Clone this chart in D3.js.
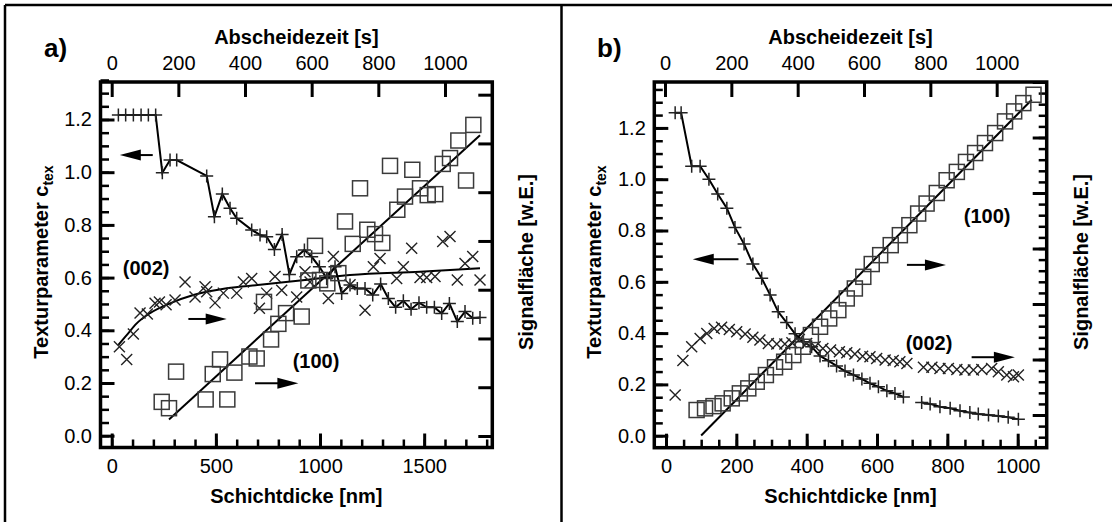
<!DOCTYPE html>
<html>
<head>
<meta charset="utf-8">
<script src="https://cdnjs.cloudflare.com/ajax/libs/d3/7.8.5/d3.min.js"></script>
<style>
body{margin:0;background:#fff;}
svg{display:block;font-family:"Liberation Sans",Arial,Helvetica,sans-serif;}
</style>
</head>
<body>
<svg></svg>
<script>
// ---- panel a) ----
var a_ctexNm  = [32,67,104,141,176,211,243,280,312,456,493,531,568,600,672,712,744,781,818,853,888,925,960,997,1032,1072,1104,1144,1179,1216,1253,1291,1328,1363,1400,1437,1475,1512,1549,1584,1621,1659,1696,1733,1768];
var a_ctexVal = [1.217,1.217,1.217,1.217,1.217,1.217,0.998,1.046,1.046,0.986,0.831,0.917,0.863,0.825,0.781,0.762,0.755,0.707,0.764,0.612,0.679,0.705,0.679,0.641,0.597,0.641,0.540,0.572,0.559,0.559,0.534,0.576,0.521,0.487,0.512,0.480,0.505,0.487,0.487,0.464,0.502,0.433,0.471,0.446,0.449];

var a_x002Nm  = [37,72,104,136,171,208,229,261,304,352,400,448,456,496,536,600,632,672,709,744,784,816,888,928,952,1040,1064,1144,1216,1256,1288,1368,1400,1440,1480,1512,1552,1589,1624,1659,1696,1733,1768];
var a_x002Val = [1.83,1.57,2.09,2.52,2.50,2.72,2.75,2.69,2.79,3.16,2.85,3.06,2.96,2.73,2.93,2.93,3.16,3.23,2.62,2.93,3.27,2.99,2.85,3.37,3.16,2.82,3.68,3.10,2.58,3.47,3.64,3.23,3.47,3.85,3.25,3.25,3.27,3.99,4.09,3.20,3.54,3.68,3.20];
var a_fit002Nm  = [32,72,120,184,280,392,552,712,928,1144,1480,1768];
var a_fit002Val = [1.87,2.07,2.31,2.52,2.72,2.89,3.03,3.10,3.20,3.30,3.37,3.44];

var a_sq100Nm  = [240,275,309,451,485,520,555,589,661,696,731,765,800,837,912,944,976,1000,1035,1088,1120,1157,1192,1227,1264,1299,1336,1371,1408,1443,1480,1517,1553,1589,1624,1664,1701,1736];
var a_sq100Val = [0.70,0.57,1.32,0.75,1.27,1.57,0.75,1.30,1.63,1.59,2.75,1.98,2.30,2.52,2.45,3.19,3.90,3.20,3.13,3.34,4.40,3.94,5.08,4.23,4.14,3.96,5.54,4.64,4.91,5.46,5.08,4.94,4.96,5.58,5.70,6.06,5.24,6.38];
var a_fit100Nm  = [275,1768];
var a_fit100Val = [0.34,6.17];

var a_arrowFrom = [197,368,688];
var a_arrowTo   = [39,552,896];
var a_arrowY    = [1.065,0.443,0.199];
var a_labelText = ["(002)","(100)"];
var a_labelNm   = [165,981];
var a_labelY    = [0.610,0.257];

// ---- panel b) ----
var b_ctexNm  = [26,43,73,97,122,147,173,196,222,247,272,296,319,343,367,390,414,438,462,485,509,533,557,580,604,628,651,675,700,727,751,779,808,836,864,888,917,945,973,1002];
var b_ctexVal = [1.259,1.259,1.051,1.051,1.000,0.942,0.887,0.812,0.747,0.669,0.614,0.549,0.483,0.441,0.397,0.366,0.347,0.311,0.292,0.272,0.252,0.237,0.221,0.204,0.191,0.175,0.165,0.151,null,0.129,0.124,0.113,0.107,0.097,0.090,0.085,0.081,0.077,0.072,0.064];

var b_x002Nm  = [26,48,73,97,116,137,158,180,201,225,247,267,291,315,338,358,379,400,424,446,468,493,514,537,559,580,599,623,646,665,685,732,756,779,803,827,850,874,898,926,945,969,988,1002];
var b_x002Val = [0.36,0.98,1.23,1.38,1.47,1.56,1.58,1.54,1.50,1.46,1.40,1.35,1.29,1.28,1.28,1.30,1.36,1.29,1.23,1.20,1.17,1.14,1.12,1.10,1.06,1.05,1.02,0.99,0.98,0.96,0.93,0.86,0.86,0.84,0.84,0.82,0.81,0.81,0.82,0.84,0.78,0.72,0.69,0.72];

var b_sq100Nm  = [87,111,135,161,187,210,234,258,284,310,336,362,389,412,438,464,490,514,537,561,585,609,639,665,692,717,741,770,798,827,853,879,907,936,964,990,1016,1045];
var b_sq100Val = [0.09,0.12,0.16,0.21,0.30,0.39,0.48,0.60,0.72,0.86,0.96,1.08,1.23,1.44,1.59,1.74,1.89,2.10,2.28,2.49,2.72,2.88,3.06,3.24,3.42,3.63,3.81,4.00,4.23,4.38,4.56,4.72,4.90,5.08,5.29,5.47,5.62,5.77];
var b_fit100Nm  = [100,1040];
var b_fit100Val = [-0.37,5.68];

var b_arrowFrom = [206,685,869];
var b_arrowTo   = [76,796,992];
var b_arrowY    = [0.688,0.666,0.306];
var b_labelText = ["(100)","(002)"];
var b_labelNm   = [913,748];
var b_labelY    = [0.829,0.334];

// ---- tick values ----
var timeTicks = [0,200,400,600,800,1000];
var leftTicks = [0.0,0.2,0.4,0.6,0.8,1.0,1.2];
var a_nmTicks = [0,500,1000,1500];
var b_nmTicks = [0,200,400,600,800,1000];

var svg = d3.select("svg")
            .attr("width",1112)
            .attr("height",522);

// panel frames
var frame = svg.append("g").attr("stroke","#000").attr("stroke-width",2.5);
frame.append("line").attr("x1",5).attr("y1",5).attr("x2",1112).attr("y2",5);
frame.append("line").attr("x1",5).attr("y1",5).attr("x2",5).attr("y2",522);
frame.append("line").attr("x1",561.5).attr("y1",5).attr("x2",561.5).attr("y2",522);

var addAxis = function(g, axis, transform, width)
{
  var ax = g.append("g")
            .attr("transform",transform)
            .call(axis)
            .attr("font-family",null)
            .attr("font-size",20);
  ax.select(".domain").remove();
  ax.selectAll("line").attr("stroke","#000").attr("stroke-width",width);
  ax.selectAll("text").attr("fill","#000");
  return ax;
}

var drawPanel = function(p)
{
  var g = svg.append("g").classed("panel",true);

  var xScale = d3.scaleLinear().domain(p.xDomain).range([p.left,p.right]);
  var tScale = d3.scaleLinear().domain(p.tDomain).range([p.left,p.right]);
  var yScale = d3.scaleLinear().domain(p.yDomain).range([p.bottom,p.top]);
  var rScale = d3.scaleLinear().domain(p.rDomain).range([p.bottom,p.top]);

  // minor ticks
  addAxis(g, d3.axisBottom(xScale).tickValues(p.xMinor).tickSize(-8).tickFormat(""),
          "translate(0,"+p.bottom+")", 2.5);
  addAxis(g, d3.axisLeft(yScale).tickValues(d3.range(0,1.36,0.05)).tickSize(-8.5).tickFormat(""),
          "translate("+p.left+",0)", 2.5);
  if (p.rMinor)
    addAxis(g, d3.axisRight(rScale).tickValues(p.rMinor).tickSize(-8).tickFormat(""),
            "translate("+p.right+",0)", 2.5);

  // major ticks + labels
  addAxis(g, d3.axisBottom(xScale).tickValues(p.xTicks).tickSize(-14).tickPadding(11).tickFormat(d3.format("d")),
          "translate(0,"+p.bottom+")", 3);
  addAxis(g, d3.axisTop(tScale).tickValues(timeTicks).tickSize(-15).tickPadding(12).tickFormat(d3.format("d")),
          "translate(0,"+p.top+")", 3);
  addAxis(g, d3.axisLeft(yScale).tickValues(leftTicks).tickSize(-14).tickPadding(8.5).tickFormat(d3.format(".1f")),
          "translate("+p.left+",0)", 3);
  addAxis(g, d3.axisRight(rScale).tickValues(p.rTicks).tickSize(-14).tickFormat(""),
          "translate("+p.right+",0)", 3);

  g.append("rect")
   .attr("x",p.left).attr("y",p.top)
   .attr("width",p.right-p.left).attr("height",p.bottom-p.top)
   .attr("fill","none").attr("stroke","#000").attr("stroke-width",3.5);

  // fit lines
  var rLine = d3.line()
                .curve(d3.curveMonotoneX)
                .x(function(d) {return xScale(d[0])})
                .y(function(d) {return rScale(d[1])});

  p.fits.forEach(function(f)
  {
    g.append("path")
     .datum(d3.zip(f[0],f[1]))
     .attr("d",rLine)
     .attr("fill","none").attr("stroke","#000").attr("stroke-width",2);
  });

  // texture parameter (left axis)
  var ctex = d3.zip(p.ctexNm,p.ctexVal);
  var cLine = d3.line()
                .defined(function(d) {return d[1]!==null})
                .x(function(d) {return xScale(d[0])})
                .y(function(d) {return yScale(d[1])});

  g.append("path")
   .datum(ctex)
   .attr("d",cLine)
   .attr("fill","none").attr("stroke","#000").attr("stroke-width",2);

  g.selectAll(".plus")
   .data(ctex.filter(function(d) {return d[1]!==null}))
   .enter()
   .append("path")
   .classed("plus",true)
   .attr("transform",function(d) {return "translate("+xScale(d[0])+","+yScale(d[1])+")"})
   .attr("d","M-6.5,0H6.5M0,-6.5V6.5")
   .attr("stroke","#222").attr("stroke-width",1.5).attr("fill","none");

  // (002) crosses
  g.selectAll(".cross")
   .data(d3.zip(p.x002Nm,p.x002Val))
   .enter()
   .append("path")
   .classed("cross",true)
   .attr("transform",function(d) {return "translate("+xScale(d[0])+","+rScale(d[1])+")"})
   .attr("d","M-5.5,-5.5L5.5,5.5M-5.5,5.5L5.5,-5.5")
   .attr("stroke","#222").attr("stroke-width",1.4).attr("fill","none");

  // (100) squares
  g.selectAll(".square")
   .data(d3.zip(p.sq100Nm,p.sq100Val))
   .enter()
   .append("rect")
   .classed("square",true)
   .attr("x",function(d) {return xScale(d[0])-7.5})
   .attr("y",function(d) {return rScale(d[1])-7.5})
   .attr("width",15).attr("height",15)
   .attr("fill","none").attr("stroke","#3a3a3a").attr("stroke-width",1.5);

  // arrows
  p.arrowFrom.forEach(function(from,i)
  {
    var x1 = xScale(from), x2 = xScale(p.arrowTo[i]), y = yScale(p.arrowY[i]);
    var dir = x2 > x1 ? 1 : -1;
    g.append("line")
     .attr("x1",x1).attr("y1",y).attr("x2",x2-dir*15).attr("y2",y)
     .attr("stroke","#000").attr("stroke-width",2);
    g.append("path")
     .attr("d","M"+x2+","+y+"L"+(x2-dir*21)+","+(y-5.5)+"L"+(x2-dir*21)+","+(y+5.5)+"Z")
     .attr("fill","#000");
  });

  p.labelText.forEach(function(t,i)
  {
    g.append("text")
     .attr("x",xScale(p.labelNm[i])).attr("y",yScale(p.labelY[i]))
     .attr("text-anchor","middle")
     .attr("font-size",20).attr("font-weight","bold")
     .text(t);
  });

  // titles
  var cx = (p.left+p.right)/2, cy = 262;
  g.append("text")
   .attr("x",cx).attr("y",44)
   .attr("text-anchor","middle").attr("font-size",20).attr("font-weight","bold")
   .text("Abscheidezeit [s]");
  g.append("text")
   .attr("x",cx).attr("y",503)
   .attr("text-anchor","middle").attr("font-size",20).attr("font-weight","bold")
   .text("Schichtdicke [nm]");
  g.append("text")
   .attr("x",p.letterX).attr("y",57)
   .attr("font-size",26).attr("font-weight","bold")
   .text(p.letter);

  var yt = g.append("text")
            .attr("transform","translate("+(p.left-53)+","+cy+") rotate(-90)")
            .attr("text-anchor","middle").attr("font-size",20).attr("font-weight","bold");
  yt.append("tspan").text("Texturparameter c");
  yt.append("tspan").attr("dy",5).attr("font-size",14).text("tex");

  g.append("text")
   .attr("transform","translate("+(p.right+41)+","+cy+") rotate(-90)")
   .attr("text-anchor","middle").attr("font-size",20).attr("font-weight","bold")
   .text("Signalfläche [w.E.]");
}

drawPanel({
  letter:"a)", letterX:44,
  left:100.5, right:492.3, top:82, bottom:447.5,
  xDomain:[-53.8,1827], tDomain:[-33.6,1142], yDomain:[-0.0448,1.3423], rDomain:[-0.236,7.26],
  xTicks:a_nmTicks, xMinor:d3.range(0,1801,100),
  rTicks:d3.range(0,8,1), rMinor:null,
  ctexNm:a_ctexNm, ctexVal:a_ctexVal,
  x002Nm:a_x002Nm, x002Val:a_x002Val,
  sq100Nm:a_sq100Nm, sq100Val:a_sq100Val,
  fits:[[a_fit002Nm,a_fit002Val],[a_fit100Nm,a_fit100Val]],
  arrowFrom:a_arrowFrom, arrowTo:a_arrowTo, arrowY:a_arrowY,
  labelText:a_labelText, labelNm:a_labelNm, labelY:a_labelY
});

drawPanel({
  letter:"b)", letterX:597,
  left:654.3, right:1046.7, top:82, bottom:447.7,
  xDomain:[-33.3,1082.5], tDomain:[-32.3,1150.8], yDomain:[-0.0468,1.379], rDomain:[-0.589,6.0],
  xTicks:b_nmTicks, xMinor:d3.range(0,1051,50),
  rTicks:d3.range(0,7,1), rMinor:d3.range(-0.4,6,0.2),
  ctexNm:b_ctexNm, ctexVal:b_ctexVal,
  x002Nm:b_x002Nm, x002Val:b_x002Val,
  sq100Nm:b_sq100Nm, sq100Val:b_sq100Val,
  fits:[[b_fit100Nm,b_fit100Val]],
  arrowFrom:b_arrowFrom, arrowTo:b_arrowTo, arrowY:b_arrowY,
  labelText:b_labelText, labelNm:b_labelNm, labelY:b_labelY
});
</script>
</body>
</html>
